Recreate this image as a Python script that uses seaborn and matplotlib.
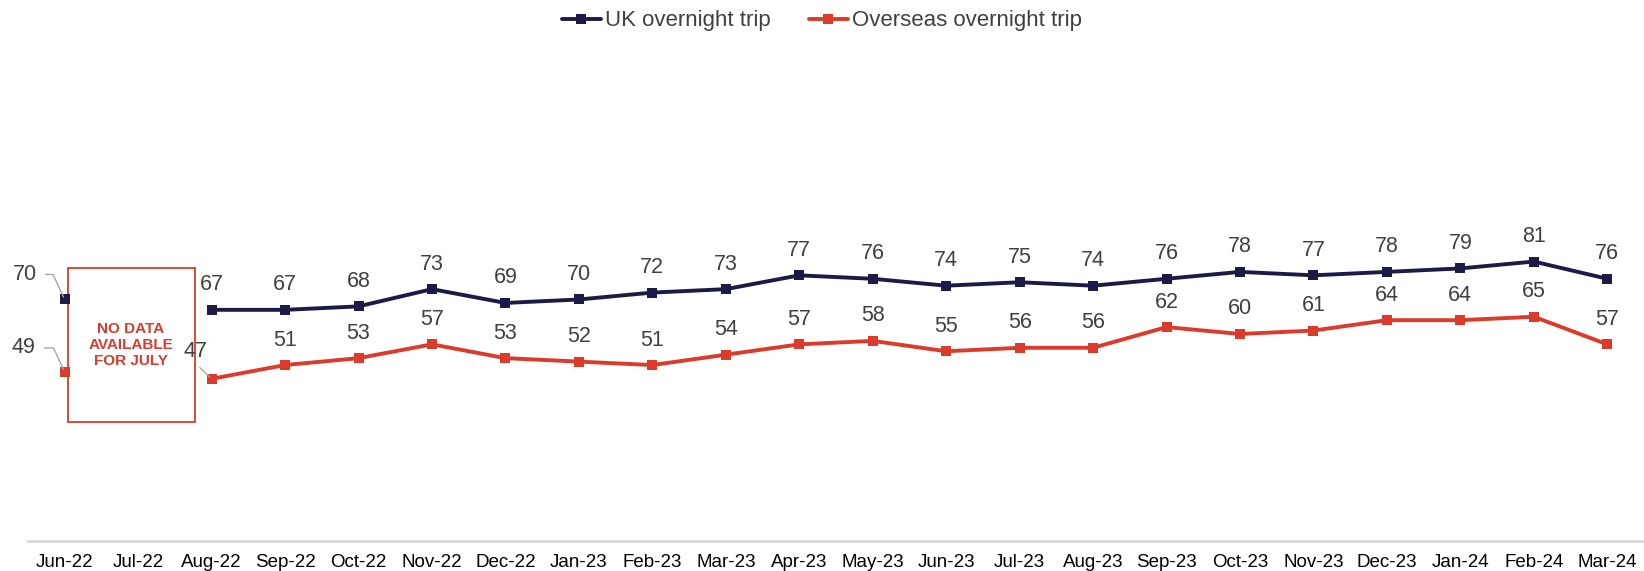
import numpy as np
import pandas as pd
import matplotlib
matplotlib.use("Agg")
import matplotlib.pyplot as plt
import seaborn as sns
from matplotlib.patches import Rectangle

months = ["Jun-22", "Jul-22", "Aug-22", "Sep-22", "Oct-22", "Nov-22", "Dec-22",
          "Jan-23", "Feb-23", "Mar-23", "Apr-23", "May-23", "Jun-23", "Jul-23",
          "Aug-23", "Sep-23", "Oct-23", "Nov-23", "Dec-23", "Jan-24", "Feb-24", "Mar-24"]
uk = [70, np.nan, 67, 67, 68, 73, 69, 70, 72, 73, 77, 76, 74, 75, 74, 76, 78, 77, 78, 79, 81, 76]
overseas = [49, np.nan, 47, 51, 53, 57, 53, 52, 51, 54, 57, 58, 55, 56, 56, 62, 60, 61, 64, 64, 65, 57]
series_names = ["UK overnight trip", "Overseas overnight trip"]
colors = ["#1e1a48", "#dc3a2b"]

sns.set_theme(style="white")
plt.rcParams["font.family"] = ["Liberation Sans", "DejaVu Sans"]

pos = np.arange(len(months))
frames = []
for name, vals in zip(series_names, [uk, overseas]):
    v = np.array(vals, dtype=float)
    seg = np.cumsum(np.isnan(v))  # new segment after each gap
    frames.append(pd.DataFrame({"pos": pos, "value": v, "series": name, "seg": seg}))
df = pd.concat(frames, ignore_index=True).dropna()

fig = plt.figure(figsize=(16.44, 5.71), dpi=100)
ax = fig.add_axes([0.017, 0.0525, 0.983, 0.846])

sns.lineplot(data=df, x="pos", y="value", hue="series", hue_order=series_names,
             units="seg", estimator=None,
             palette=colors, marker="s", markersize=7.5, markeredgewidth=0,
             linewidth=2.8, dashes=False, ax=ax, legend=True, zorder=3)

ax.set_xlim(-0.5, len(months) - 0.5)
ax.set_ylim(0, 140)
ax.set_xticks(pos)
ax.set_xticklabels(months, fontsize=13.5, color="black")
ax.tick_params(axis="x", length=0, pad=9)
ax.set_yticks([])
ax.set_xlabel("")
ax.set_ylabel("")
for s in ["left", "right", "top"]:
    ax.spines[s].set_visible(False)
ax.spines["bottom"].set_color("#d9d9d9")
ax.spines["bottom"].set_linewidth(2)

label_color = "#404040"
lab_fs = 15.5
special = {(0, 0): (-40, 25), (1, 0): (-41, 24), (1, 2): (-16, 27)}
for si, vals in enumerate([uk, overseas]):
    for i, v in enumerate(vals):
        if np.isnan(v):
            continue
        if (si, i) in special:
            dx, dy = special[(si, i)]
            if i == 0:
                ax.annotate(f"{int(v)}", xy=(pos[i], v), xytext=(dx, dy),
                            textcoords="offset pixels", ha="center", va="center",
                            fontsize=lab_fs, color=label_color, zorder=7,
                            arrowprops=dict(arrowstyle="-", color="#a6a6a6", lw=1,
                                            shrinkA=4, shrinkB=2, relpos=(1, 0.5),
                                            connectionstyle="angle,angleA=0,angleB=115,rad=0"))
            else:
                ax.annotate(f"{int(v)}", xy=(pos[i], v), xytext=(dx, dy),
                            textcoords="offset pixels", ha="center", va="center",
                            fontsize=lab_fs, color=label_color, zorder=7,
                            arrowprops=dict(arrowstyle="-", color="#a6a6a6", lw=1,
                                            shrinkA=2, shrinkB=2, relpos=(0.45, 0)))
        else:
            ax.annotate(f"{int(v)}", xy=(pos[i], v), xytext=(0, 25),
                        textcoords="offset pixels", ha="center", va="center",
                        fontsize=lab_fs, color=label_color, zorder=7)

# "No data" box over July
box = Rectangle((0.05, 34.5), 1.72, 44.6, facecolor="white", edgecolor="#dc3a2b",
                linewidth=1.3, zorder=2)
ax.add_patch(box)
ax.text(0.9, 56.8, "NO DATA\nAVAILABLE\nFOR JULY", ha="center", va="center",
        fontsize=11, fontweight="bold", color="#dc3a2b", zorder=6, linespacing=1.2)

handles, labels = ax.get_legend_handles_labels()
ax.get_legend().remove()
fig.legend(handles, labels, loc="upper center", bbox_to_anchor=(0.5, 1.017), ncol=2,
           frameon=False, fontsize=16, handlelength=1.75, handletextpad=0.2,
           columnspacing=1.7, labelcolor="#404040")

fig.savefig("out.png", dpi=100)
